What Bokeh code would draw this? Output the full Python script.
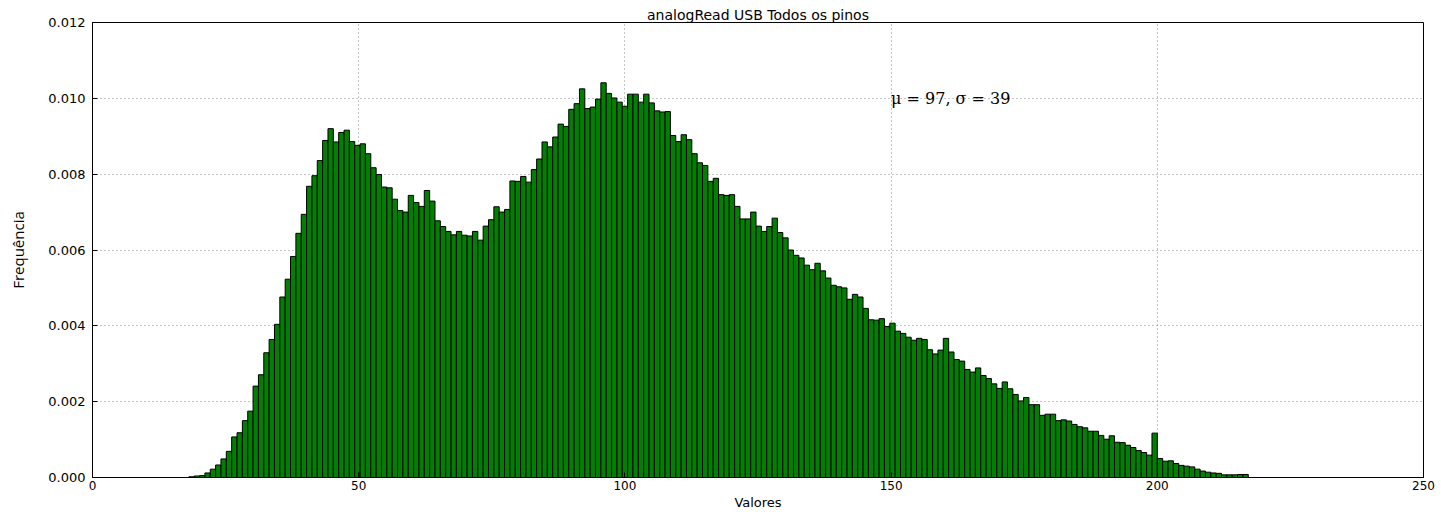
from bokeh.plotting import figure
from bokeh.models import Range1d, FixedTicker, NumeralTickFormatter, Label
from bokeh.embed import file_html
from bokeh.resources import INLINE

# Histogram data (density per bin)
bin_start = 18.1
bin_width = 1.005
frequencies = [
    0.00002, 0.00004, 0.00005, 0.00012, 0.00022, 0.00033, 0.00049, 0.00069, 0.00107, 0.00118,
    0.00150, 0.00175, 0.00241, 0.00271, 0.00329, 0.00364, 0.00404, 0.00476, 0.00523, 0.00583,
    0.00644, 0.00694, 0.00768, 0.00796, 0.00836, 0.00889, 0.00920, 0.00885, 0.00910, 0.00916,
    0.00886, 0.00876, 0.00880, 0.00854, 0.00817, 0.00799, 0.00766, 0.00764, 0.00734, 0.00704,
    0.00700, 0.00744, 0.00725, 0.00715, 0.00757, 0.00729, 0.00677, 0.00662, 0.00649, 0.00640,
    0.00649, 0.00639, 0.00637, 0.00649, 0.00626, 0.00663, 0.00680, 0.00714, 0.00700, 0.00707,
    0.00782, 0.00781, 0.00794, 0.00779, 0.00812, 0.00840, 0.00885, 0.00872, 0.00898, 0.00932,
    0.00926, 0.00971, 0.00986, 0.01025, 0.00973, 0.00977, 0.00998, 0.01041, 0.01013, 0.01001,
    0.00990, 0.00979, 0.01011, 0.01011, 0.00990, 0.01011, 0.00988, 0.00967, 0.00964, 0.00965,
    0.00902, 0.00886, 0.00904, 0.00891, 0.00854, 0.00830, 0.00823, 0.00781, 0.00789, 0.00746,
    0.00744, 0.00746, 0.00715, 0.00682, 0.00682, 0.00700, 0.00663, 0.00649, 0.00662, 0.00684,
    0.00646, 0.00632, 0.00600, 0.00586, 0.00579, 0.00560, 0.00548, 0.00565, 0.00545, 0.00526,
    0.00507, 0.00503, 0.00500, 0.00470, 0.00483, 0.00476, 0.00446, 0.00416, 0.00415, 0.00419,
    0.00398, 0.00407, 0.00386, 0.00380, 0.00370, 0.00362, 0.00367, 0.00364, 0.00337, 0.00326,
    0.00336, 0.00367, 0.00331, 0.00311, 0.00307, 0.00285, 0.00278, 0.00289, 0.00269, 0.00261,
    0.00247, 0.00235, 0.00252, 0.00234, 0.00219, 0.00202, 0.00211, 0.00192, 0.00192, 0.00164,
    0.00167, 0.00167, 0.00150, 0.00152, 0.00149, 0.00140, 0.00134, 0.00131, 0.00122, 0.00122,
    0.00111, 0.00101, 0.00110, 0.00093, 0.00092, 0.00085, 0.00079, 0.00071, 0.00066, 0.00059,
    0.00117, 0.00050, 0.00043, 0.00044, 0.00037, 0.00032, 0.00030, 0.00028, 0.00022, 0.00017,
    0.00014, 0.00012, 0.00011, 0.00007, 0.00007, 0.00007, 0.00008, 0.00008,
]
x_ticks = [0, 50, 100, 150, 200, 250]
y_ticks = [0.0, 0.002, 0.004, 0.006, 0.008, 0.010, 0.012]
title_text = "analogRead USB Todos os pinos"
x_label = "Valores"
y_label = "Frequência"
stats_text = "μ = 97, σ = 39"
stats_pos = (150, 0.010)

lefts = [bin_start + i * bin_width for i in range(len(frequencies))]
rights = [l + bin_width for l in lefts]

p = figure(frame_width=1331, frame_height=455, output_backend="svg", toolbar_location=None,
           x_range=Range1d(0, 250), y_range=Range1d(0, 0.012),
           min_border_left=92, min_border_right=12, min_border_top=22, min_border_bottom=34)

p.title.text = title_text
p.title.align = "center"
p.title.text_font = "DejaVu Sans"
p.title.text_font_size = "14px"
p.title.text_font_style = "normal"
p.title.text_color = "#000000"
p.title.standoff = 0
p.title.offset = 0

p.quad(left=lefts, right=rights, bottom=0, top=frequencies,
       fill_color="#008000", line_color="#000000", line_width=1)

p.outline_line_color = "#000000"
p.outline_line_width = 1
p.background_fill_color = "white"
p.border_fill_color = "white"

for ax in (p.xaxis[0], p.yaxis[0]):
    ax.axis_line_color = "#000000"
    ax.major_tick_in = 5
    ax.major_tick_out = 0
    ax.minor_tick_line_color = None
    ax.major_tick_line_color = "#000000"
    ax.major_label_text_font = "DejaVu Sans"
    ax.major_label_text_color = "#000000"
    ax.axis_label_text_font_style = "normal"
    ax.axis_label_text_color = "#000000"

p.xaxis.major_label_text_font_size = "12px"
p.yaxis.major_label_text_font_size = "13px"
p.xaxis.ticker = FixedTicker(ticks=x_ticks)
p.yaxis.ticker = FixedTicker(ticks=y_ticks)
p.yaxis.formatter = NumeralTickFormatter(format="0.000")
p.xaxis.major_label_standoff = 3
p.yaxis.major_label_standoff = 7

p.xaxis.axis_label = x_label
p.xaxis.axis_label_text_font = "DejaVu Sans"
p.xaxis.axis_label_text_font_size = "13px"
p.xaxis.axis_label_standoff = 2

p.yaxis.axis_label = y_label
p.yaxis.axis_label_text_font = "Open Sans"
p.yaxis.axis_label_text_font_size = "15px"
p.yaxis.axis_label_standoff = 17

p.xgrid.grid_line_color = "#888888"
p.ygrid.grid_line_color = "#888888"
p.xgrid.grid_line_dash = "1 3"
p.ygrid.grid_line_dash = "1 3"
p.xgrid.grid_line_width = 1
p.ygrid.grid_line_width = 1
p.xgrid.ticker = FixedTicker(ticks=x_ticks)
p.ygrid.ticker = FixedTicker(ticks=y_ticks)

p.add_layout(Label(x=stats_pos[0], y=stats_pos[1], text=stats_text,
                   text_font="DejaVu Serif", text_font_size="16px",
                   text_baseline="alphabetic", text_align="left", text_color="#000000"))

open("out.html", "w").write(file_html(p, INLINE))
